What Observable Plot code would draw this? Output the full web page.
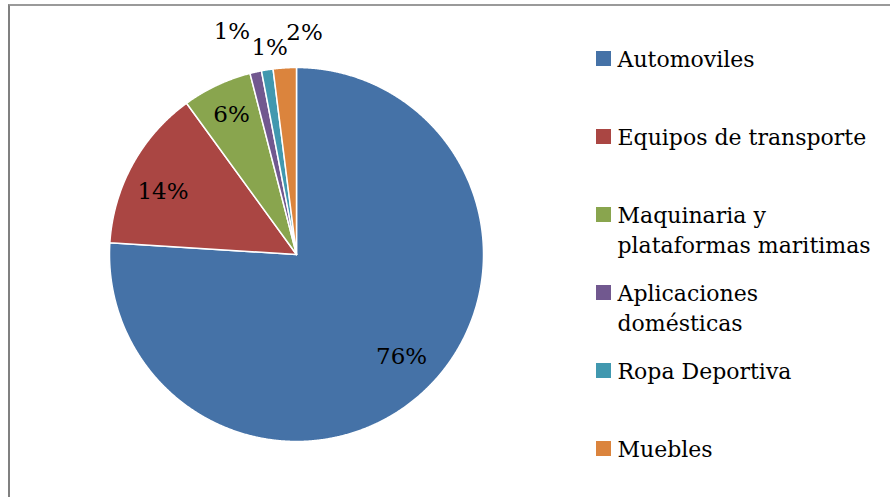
<!DOCTYPE html>
<html><head><meta charset="utf-8">
<script src="https://cdn.jsdelivr.net/npm/d3@7"></script>
<script src="https://cdn.jsdelivr.net/npm/@observablehq/plot@0.6"></script>
<style>
html,body{margin:0;padding:0;background:#fff;overflow:hidden}
#wrap{position:relative;width:890px;height:497px;overflow:hidden}
#frame{position:absolute;left:8px;top:4px;width:900px;height:520px;border-left:2px solid #808080;border-top:2px solid #9a9a9a;box-sizing:border-box}
#wrap svg{position:absolute;left:0;top:0}
</style></head><body><div id="wrap"><div id="frame"></div></div>
<script>
// ---- data ----
const categories = ["Automoviles", "Equipos de transporte", "Maquinaria y\nplataformas maritimas", "Aplicaciones\ndomésticas", "Ropa Deportiva", "Muebles"];
const shares = [76, 14, 6, 1, 1, 2];
const pctLabels = ["76%", "14%", "6%", "1%", "1%", "2%"];
const colors = ["#4572A7", "#AA4643", "#89A54E", "#71588F", "#4198AF", "#DB843D"];

// ---- layout ----
const W = 890, H = 497;
const cx = 296, cy = 254, R = 187;
const labelNudge = [[4, -6], [-4, 8], [-2, -6], [-16, -6], [8, 13], [22, 0]];
const legendX = 596, legendTop = 58.5, legendStep = 78, sq = 15;

const arcs = d3.pie().sort(null).value(d => d)(shares);
const pt = (a, r) => ({x: cx + r * Math.sin(a), y: cy - r * Math.cos(a)});

const slicePts = [];
arcs.forEach((a, i) => {
  const cat = categories[i];
  slicePts.push({cat, ...pt(0, 0)});
  const n = Math.max(2, Math.ceil((a.endAngle - a.startAngle) / (Math.PI / 720)));
  for (let k = 0; k <= n; k++) {
    const ang = a.startAngle + (a.endAngle - a.startAngle) * k / n;
    slicePts.push({cat, ...pt(ang, R)});
  }
  slicePts.push({cat, ...pt(0, 0)});
});

const labels = arcs.map((a, i) => {
  const mid = (a.startAngle + a.endAngle) / 2;
  const f = shares[i] >= 5 ? 0.79 : 1.19;
  const p = pt(mid, R * f);
  return {text: pctLabels[i], x: p.x + labelNudge[i][0], y: p.y + labelNudge[i][1]};
});

const legend = categories.map((c, i) => ({
  cat: c,
  cy: legendTop + i * legendStep
}));

const chart = Plot.plot({
  width: W, height: H,
  margin: 0,
  x: {domain: [0, W], range: [0, W], axis: null},
  y: {domain: [0, H], range: [0, H], axis: null},
  color: {domain: categories, range: colors},
  style: {fontFamily: "'DejaVu Serif', serif", background: "transparent"},
  marks: [
    Plot.line(slicePts, {x: "x", y: "y", z: "cat", fill: "cat", stroke: "white", strokeWidth: 1.5, strokeLinejoin: "round"}),
    Plot.text(labels, {x: "x", y: "y", text: "text", fontSize: 23, fill: "#000", lineAnchor: "middle"}),
    Plot.rect(legend, {x1: legendX, x2: legendX + sq, y1: d => d.cy - sq / 2, y2: d => d.cy + sq / 2, fill: "cat", inset: 0}),
    Plot.text(legend, {x: legendX + sq + 6, y: d => d.cy - 13, text: "cat", textAnchor: "start", lineAnchor: "top", fontSize: 22, lineHeight: 30 / 22, fill: "#000"})
  ]
});
document.getElementById("wrap").appendChild(chart);
</script></body></html>
